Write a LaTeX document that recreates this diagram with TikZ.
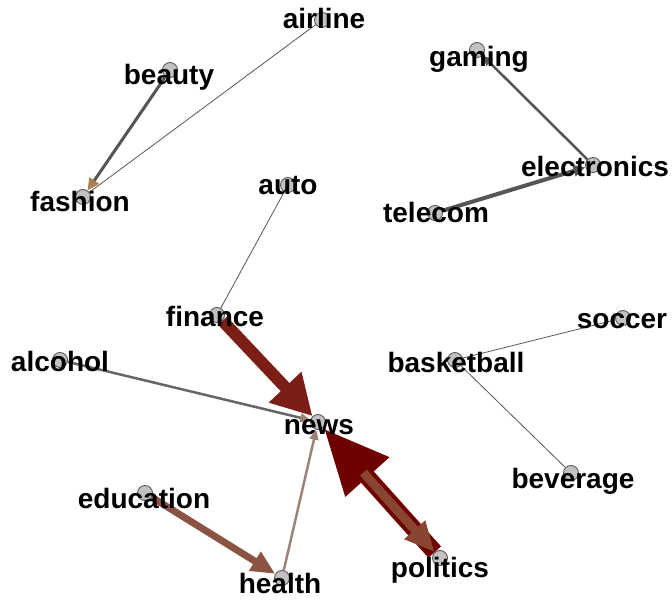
\documentclass[tikz,border=0pt]{standalone}
\usepackage{fontspec}
\setmainfont{Liberation Sans}
\usepackage{tikz}
\usetikzlibrary{arrows.meta,backgrounds}

\definecolor{finred}{HTML}{7B1E16}
\definecolor{polmaroon}{HTML}{6E0000}
\definecolor{polbrown}{HTML}{8A4530}
\definecolor{edubrown}{HTML}{8B5442}
\definecolor{healthtan}{HTML}{9A8478}
\definecolor{linkgray}{HTML}{555555}
\definecolor{vfill}{HTML}{C4C0C4}

\begin{document}
\begin{tikzpicture}[x=1pt, y=-1pt,
    vertex/.style={circle, draw=black!65, fill=vfill, line width=0.9pt, inner sep=0pt, minimum size=15pt},
    tag/.style={anchor=base, inner sep=0pt, font=\fontsize{28}{28}\selectfont\bfseries},
    thin link/.style={draw=linkgray, line width=0.8pt}]
    \useasboundingbox (0,0) rectangle (672,601);

    % vertices
    \node[vertex] (airline) at (322,20) {};
    \node[vertex] (beauty) at (170,70) {};
    \node[vertex] (fashion) at (83,197) {};
    \node[vertex] (auto) at (288,185) {};
    \node[vertex] (gaming) at (477,50) {};
    \node[vertex] (electronics) at (593,165) {};
    \node[vertex] (telecom) at (435,213) {};
    \node[vertex] (finance) at (217,315) {};
    \node[vertex] (alcohol) at (60,360) {};
    \node[vertex] (news) at (318,422) {};
    \node[vertex] (education) at (145,493) {};
    \node[vertex] (health) at (282,578) {};
    \node[vertex] (basketball) at (455,360) {};
    \node[vertex] (soccer) at (623,318) {};
    \node[vertex] (beverage) at (571,473) {};
    \node[vertex] (politics) at (440,558) {};

    % edges
    \begin{scope}[on background layer]
    \draw[thin link] (airline) -- (fashion);
    \draw[draw=linkgray, line width=3pt, -{Triangle[length=12pt,width=11pt,color=brown!70!gray]}] (beauty) -- (fashion);
    \draw[draw=linkgray, line width=2.5pt, -{Triangle[length=10pt,width=9pt]}] (electronics) -- (gaming);
    \draw[draw=linkgray, line width=4pt, -{Triangle[length=12pt,width=11pt]}] (telecom) -- (electronics);
    \draw[thin link] (auto) -- (finance);
    \draw[thin link] (basketball) -- (soccer);
    \draw[thin link] (basketball) -- (beverage);

    \draw[draw=black!60, line width=2.5pt, -{Triangle[length=10pt,width=9pt,color=healthtan]}] (alcohol) -- (news);
    \draw[draw=healthtan, line width=2.5pt, -{Triangle[length=10pt,width=9pt]}] (health) -- (news);
    \draw[draw=edubrown, line width=7pt, -{Triangle[length=24pt,width=21pt]}] (education) -- (health);
    \draw[draw=finred, line width=12pt, -{Triangle[length=40pt,width=42pt]}] (finance) -- (news);
    \draw[draw=polmaroon, line width=17pt, -{Triangle[length=66pt,width=54pt]}] (politics) -- (news);
    \draw[draw=polbrown, line width=9pt, shorten <=60pt, -{Triangle[length=30pt,width=26pt]}] (news) -- (politics);
    \end{scope}

    % labels
    \node[tag] (airlineT) at (324,29) {airline};
    \node[tag] (beautyT) at (169,85) {beauty};
    \node[tag] (fashionT) at (80,212) {fashion};
    \node[tag] (autoT) at (288,195) {auto};
    \node[tag] (gamingT) at (479,67) {gaming};
    \node[tag] (electronicsT) at (595,177) {electronics};
    \node[tag] (telecomT) at (436,223) {telecom};
    \node[tag] (financeT) at (215,327) {finance};
    \node[tag] (alcoholT) at (60,372) {alcohol};
    \node[tag] (newsT) at (319,435) {news};
    \node[tag] (educationT) at (144,508) {education};
    \node[tag] (healthT) at (280,593) {health};
    \node[tag] (basketballT) at (456,373) {basketball};
    \node[tag] (soccerT) at (622,329) {soccer};
    \node[tag] (beverageT) at (573,488) {beverage};
    \node[tag] (politicsT) at (440,577) {politics};

\end{tikzpicture}
\end{document}
